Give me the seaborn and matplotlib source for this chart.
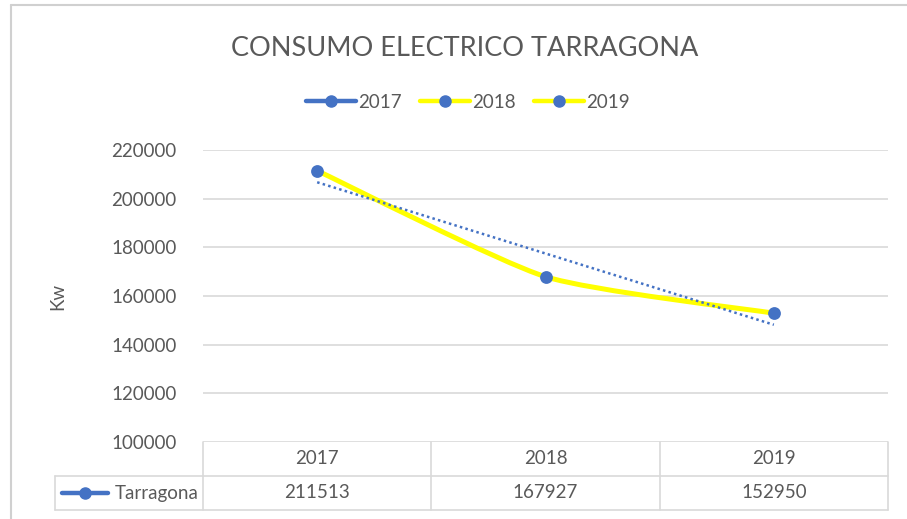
import matplotlib.pyplot as plt
import seaborn as sns
import numpy as np
from matplotlib.path import Path
from matplotlib.patches import PathPatch
from matplotlib.lines import Line2D
import matplotlib.transforms as mtransforms

# chart data
years = ['2017', '2018', '2019']
consumo = [211513, 167927, 152950]
y_ticks = [100000, 120000, 140000, 160000, 180000, 200000, 220000]

BLUE = '#4472C4'
YELLOW = '#FFFF00'
GRAY_TXT = '#595959'
GRID = '#D9D9D9'
FS = 13.5

sns.set_style('white')
plt.rcParams['font.family'] = ['Lato', 'DejaVu Sans']

fig = plt.figure(figsize=(9.07, 5.19), dpi=100)
W, H = 907, 519
ax = fig.add_axes([203 / W, 1 - 442 / H, (888 - 203) / W, (442 - 150) / H])

xs = np.arange(len(years))

# smoothed yellow line (bezier through the points)
pts = list(zip(xs, consumo))
verts = [pts[0]]
codes = [Path.MOVETO]
for i in range(len(pts) - 1):
    p0 = np.array(pts[max(i - 1, 0)], float)
    p1 = np.array(pts[i], float)
    p2 = np.array(pts[i + 1], float)
    p3 = np.array(pts[min(i + 2, len(pts) - 1)], float)
    c1 = p1 + (p2 - p0) / 10
    c2 = p2 - (p3 - p1) / 10
    verts += [tuple(c1), tuple(c2), tuple(p2)]
    codes += [Path.CURVE4] * 3
ax.add_patch(PathPatch(Path(verts, codes), facecolor='none', edgecolor=YELLOW,
                       lw=3.6, zorder=3, capstyle='round', joinstyle='round'))

# linear trendline
sns.regplot(x=xs, y=consumo, ax=ax, scatter=False, ci=None, truncate=True,
            line_kws=dict(color=BLUE, lw=1.8, ls=(0, (1, 1.3)), zorder=4))

# markers
sns.scatterplot(x=xs, y=consumo, ax=ax, color=BLUE, s=85, edgecolor=BLUE,
                linewidth=0, zorder=5)

ax.set_xlim(-0.5, len(years) - 0.5)
ax.set_ylim(100000, 220000)
ax.set_yticks(y_ticks)
ax.set_yticklabels([str(t) for t in y_ticks], color=GRAY_TXT, fontsize=FS)
ax.set_xticks([])
ax.tick_params(axis='y', length=0, pad=19)
ax.grid(axis='y', color=GRID, lw=1.2)
for s in ax.spines.values():
    s.set_visible(False)
ax.set_ylabel('Kw', color=GRAY_TXT, fontsize=FS, labelpad=0)
ax.yaxis.set_label_coords(-0.2, 0.5)

# data table under the axes
row_h = 34 / 292
trans = mtransforms.blended_transform_factory(ax.transData, ax.transAxes)
tab = dict(color=GRID, lw=1.2, clip_on=False, zorder=1)
x_lab = -148 / 685
ax.plot([0, 1], [-row_h, -row_h], transform=ax.transAxes, **tab)
ax.plot([x_lab, 1], [-2 * row_h, -2 * row_h], transform=ax.transAxes, **tab)
ax.plot([x_lab, 0], [-row_h, -row_h], transform=ax.transAxes, **tab)
ax.plot([x_lab, x_lab], [-row_h, -2 * row_h], transform=ax.transAxes, **tab)
ax.plot([0, 0], [0, -2 * row_h], transform=ax.transAxes, **tab)
ax.plot([1, 1], [0, -2 * row_h], transform=ax.transAxes, **tab)
for b in np.arange(len(years) - 1) + 0.5:
    ax.plot([b, b], [0, -2 * row_h], transform=trans, **tab)
for x, yr, v in zip(xs, years, consumo):
    ax.text(x, -0.5 * row_h, yr, transform=trans, ha='center', va='center',
            fontsize=FS, color=GRAY_TXT)
    ax.text(x, -1.5 * row_h, str(v), transform=trans, ha='center', va='center',
            fontsize=FS, color=GRAY_TXT)
ax.text(-0.006, -1.5 * row_h, 'Tarragona', transform=ax.transAxes, ha='right',
        va='center', fontsize=FS, color=GRAY_TXT)
ax.plot([x_lab + 0.01, x_lab + 0.077], [-1.5 * row_h] * 2, color=BLUE, lw=3.2,
        transform=ax.transAxes, clip_on=False)
ax.plot([x_lab + 0.0435], [-1.5 * row_h], marker='o', ms=8, color=BLUE,
        transform=ax.transAxes, clip_on=False)

# legend
handles = [
    Line2D([], [], color=BLUE, lw=3.2, marker='o', ms=8, mfc=BLUE, mec=BLUE),
    Line2D([], [], color=YELLOW, lw=3.2, marker='o', ms=8, mfc=BLUE, mec=BLUE),
    Line2D([], [], color=YELLOW, lw=3.2, marker='o', ms=8, mfc=BLUE, mec=BLUE),
]
fig.legend(handles, years, loc='center', bbox_to_anchor=(468 / W, 1 - 102 / H),
           ncol=3, frameon=False, fontsize=FS, handlelength=2.65,
           columnspacing=1.0, handletextpad=0.1, labelcolor=GRAY_TXT)

fig.text(465 / W, 1 - 48 / H, 'CONSUMO ELECTRICO TARRAGONA', ha='center',
         va='center', fontsize=19.5, color=GRAY_TXT)

# window frame
fig.add_artist(Line2D([11 / W, 11 / W], [0, 1 - 5 / H], color='#D0D0D0', lw=1.5))
fig.add_artist(Line2D([11 / W, 1], [1 - 5 / H, 1 - 5 / H], color='#D0D0D0', lw=1.5))

fig.savefig('out.png', dpi=100, facecolor='white')
